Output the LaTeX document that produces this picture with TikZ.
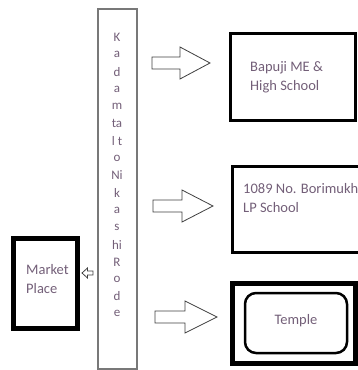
\documentclass[tikz,border=0pt]{standalone}
\usepackage{fontspec}
\setmainfont{Carlito}
\definecolor{txt}{RGB}{115,95,120}
\definecolor{frame}{RGB}{120,120,120}
\tikzset{
  thickbox/.style={draw=black, line width=3pt},
  heavybox/.style={draw=black, line width=5pt},
  blockarr/.style={draw=black!75, line width=0.8pt, fill=white, line join=miter},
  lbl/.style={text=txt, font=\fontsize{14.5}{19}\selectfont, align=left, inner sep=0pt, anchor=west},
  vlet/.style={text=txt, font=\fontsize{13}{15}\selectfont, inner sep=0pt}
}
\begin{document}
\begin{tikzpicture}[x=1pt,y=-1pt]
\useasboundingbox (0,0) rectangle (358,370);
\clip (0,0) rectangle (358,370);
% tall road rectangle
\draw[draw=frame, line width=1.3pt] (98,9) rectangle (137,369);
\foreach \t [count=\i from 0] in {K,a,d,a,m,ta,l t,o,Ni,k,a,s,hi,R,o,d,e}{
  \node[vlet] (v\i) at (117,{37+17.3*\i}) {\t};
}
% boxes
\draw[thickbox] (230,33) rectangle (355,120);
\node[lbl] (b1) at (250,77) {Bapuji ME \&\\High School};
\draw[thickbox] (232,166) rectangle (368,252);
\node[lbl] (b2) at (243,198) {1089 No. Borimukh\\LP School};
\draw[heavybox] (232,283) rectangle (355,363);
\draw[black, line width=2.5pt, rounded corners=11pt] (245,293) rectangle (347,353);
\node[text=txt, font=\fontsize{14.5}{19}\selectfont, inner sep=0pt] (t3) at (296,321) {Temple};
% market place
\draw[heavybox] (13,238) rectangle (77,328);
\node[lbl] (mp) at (26,279) {Market\\Place};
% block arrows
\foreach \tx/\hx/\px/\cy in {152/180/210/63, 153/182/213/206, 155/185/217/317}{
  \draw[blockarr] (\tx,\cy-6) -- (\hx,\cy-6) -- (\hx,\cy-16) -- (\px,\cy) -- (\hx,\cy+16) -- (\hx,\cy+6) -- (\tx,\cy+6) -- cycle;
}
% small left arrow
\draw[draw=black!75, line width=0.8pt, fill=white] (93,271) -- (87.5,271) -- (87.5,268) -- (82,273) -- (87.5,278) -- (87.5,275) -- (93,275) -- cycle;
\end{tikzpicture}
\end{document}
